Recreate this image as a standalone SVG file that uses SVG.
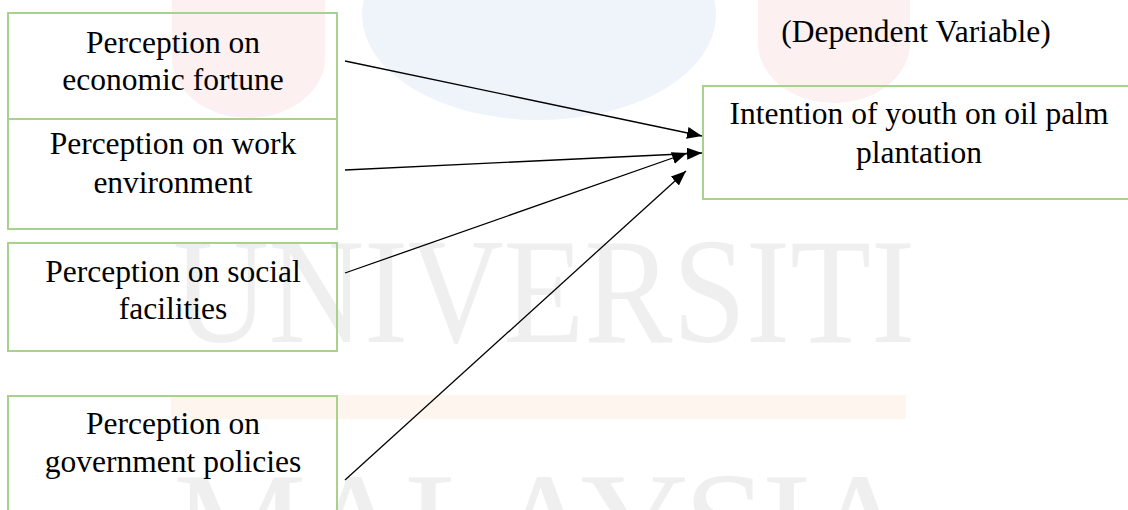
<svg xmlns="http://www.w3.org/2000/svg" width="1128" height="510" viewBox="0 0 1128 510">
  <style>
    .box { fill: none; stroke: #a9d18e; stroke-width: 2; }
    .lbl { font-family: "Liberation Serif", "Times New Roman", serif; font-size: 31.5px; fill: #000; text-anchor: middle; }
    .wm { font-family: "Liberation Serif", "Times New Roman", serif; font-size: 150px; fill: #efefef; }
    .edge { stroke: #000; stroke-width: 1.3; fill: none; marker-end: url(#arrow); }
  </style>
  <defs>
    <marker id="arrow" markerUnits="userSpaceOnUse" markerWidth="16" markerHeight="13" refX="15" refY="6" orient="auto">
      <path d="M0,0 L15,6 L0,12 Z" fill="#000"/>
    </marker>
  </defs>

  <rect width="1128" height="510" fill="#fff"/>

  <!-- faint background emblem and lettering -->
  <g id="background">
    <ellipse cx="539" cy="15" rx="177" ry="105" fill="#eef4f9"/>
    <path d="M172,0 V58 A76.5,60 0 0 0 325,58 V0 Z" fill="#fdf0f0"/>
    <path d="M758,0 V43 A76,60 0 0 0 910,43 V0 Z" fill="#fdf0f0"/>
    <rect x="171" y="395" width="735" height="24" fill="#fef5ee"/>
    <text class="wm" x="173" y="342" textLength="742" lengthAdjust="spacingAndGlyphs">UNIVERSITI</text>
    <text class="wm" x="173" y="576" textLength="742" lengthAdjust="spacing">MALAYSIA</text>
  </g>

  <g id="connectors">
    <line class="edge" x1="345" y1="61" x2="702" y2="136"/>
    <line class="edge" x1="345" y1="170" x2="702" y2="153"/>
    <line class="edge" x1="345" y1="273" x2="687" y2="153"/>
    <line class="edge" x1="345" y1="480" x2="686" y2="171"/>
  </g>

  <g id="economic-fortune">
    <rect class="box" x="8" y="13" width="329" height="106"/>
    <text class="lbl" x="173" y="53">Perception on</text>
    <text class="lbl" x="173" y="90">economic fortune</text>
  </g>

  <g id="work-environment">
    <rect class="box" x="8" y="119" width="329" height="110"/>
    <text class="lbl" x="173" y="154">Perception on work</text>
    <text class="lbl" x="173" y="193">environment</text>
  </g>

  <g id="social-facilities">
    <rect class="box" x="8" y="243" width="329" height="108"/>
    <text class="lbl" x="173" y="282">Perception on social</text>
    <text class="lbl" x="173" y="319">facilities</text>
  </g>

  <g id="government-policies">
    <rect class="box" x="8" y="396" width="329" height="130"/>
    <text class="lbl" x="173" y="434">Perception on</text>
    <text class="lbl" x="173" y="472">government policies</text>
  </g>

  <g id="dependent-label">
    <text class="lbl" x="916" y="42">(Dependent Variable)</text>
  </g>

  <g id="youth-intention">
    <rect class="box" x="703" y="86" width="440" height="113"/>
    <text class="lbl" x="919" y="124">Intention of youth on oil palm</text>
    <text class="lbl" x="919" y="163">plantation</text>
  </g>
</svg>
